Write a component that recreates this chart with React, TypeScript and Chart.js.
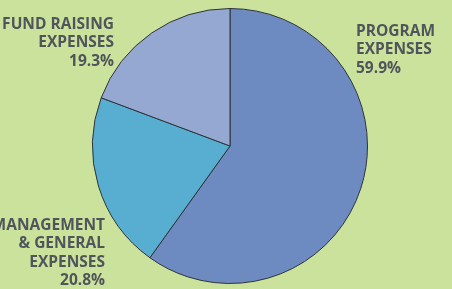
import React, { useEffect, useRef } from "react";
import { Chart, registerables } from "chart.js";

Chart.register(...registerables);

const categories = ["PROGRAM EXPENSES", "MANAGEMENT & GENERAL EXPENSES", "FUND RAISING EXPENSES"];
const values = [59.9, 20.8, 19.3];
const sliceColors = ["#6d8bc1", "#57aed0", "#94a8d1"];
const labelLines = [
  ["PROGRAM", "EXPENSES", "59.9%"],
  ["MANAGEMENT", "& GENERAL", "EXPENSES", "20.8%"],
  ["FUND RAISING", "EXPENSES", "19.3%"],
];

const BG = "#cbe29c";
const TEXT = "#50555b";

const labelPlugin = {
  id: "sideLabels",
  afterDraw(chart: any) {
    const ctx = chart.ctx;
    const arc = chart.getDatasetMeta(0).data[0];
    if (!arc) return;
    const cx = arc.x;
    const cy = arc.y;
    ctx.save();
    ctx.fillStyle = TEXT;
    ctx.font = "bold 15.5px 'Open Sans'";
    ctx.textBaseline = "alphabetic";
    const lh = 18.4;
    // program: right side
    ctx.textAlign = "left";
    labelLines[0].forEach((t, i) => ctx.fillText(t, cx + 126, cy - 110 + i * lh));
    // management: lower left
    ctx.textAlign = "right";
    labelLines[1].forEach((t, i) => ctx.fillText(t, cx - 125, cy + 84 + i * lh));
    // fund raising: upper left
    labelLines[2].forEach((t, i) => ctx.fillText(t, cx - 116, cy - 117 + i * lh));
    ctx.restore();
  },
};

export default function App() {
  const ref = useRef<HTMLCanvasElement>(null);
  useEffect(() => {
    if (!ref.current) return;
    const chart = new Chart(ref.current, {
      type: "pie",
      data: {
        labels: categories,
        datasets: [
          {
            data: values,
            backgroundColor: sliceColors,
            borderColor: "#2f3338",
            borderWidth: 1,
          },
        ],
      },
      options: {
        responsive: false,
        animation: false,
        radius: 137.5,
        layout: { padding: { left: 8, right: 0, top: 3, bottom: 0 } },
        plugins: { legend: { display: false }, tooltip: { enabled: false } },
      } as any,
      plugins: [labelPlugin],
    });
    return () => chart.destroy();
  }, []);
  return (
    <div style={{ position: "absolute", left: 0, top: 0, width: 452, height: 289, background: BG, overflow: "hidden" }}>
      <canvas ref={ref} width={452} height={289} style={{ display: "block" }} />
    </div>
  );
}
